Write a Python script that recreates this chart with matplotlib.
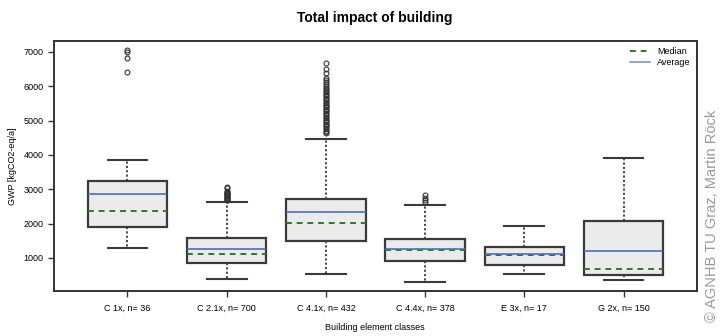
import matplotlib
matplotlib.use("Agg")
import matplotlib.pyplot as plt
from matplotlib.lines import Line2D

categories = ["C 1x, n= 36", "C 2.1x, n= 700", "C 4.1x, n= 432",
              "C 4.4x, n= 378", "E 3x, n= 17", "G 2x, n= 150"]
q1 = [1912, 862, 1503, 912, 806, 495]
q3 = [3242, 1573, 2709, 1562, 1311, 2086]
medians = [2359, 1116, 2028, 1223, 1087, 689]
means = [2854, 1261, 2348, 1261, 1116, 1213]
whislo = [1281, 379, 524, 300, 524, 367]
whishi = [3863, 2630, 4475, 2543, 1941, 3921]
outliers = [
    [6417, 6815, 7000, 7058],
    [2680, 2700, 2720, 2740, 2760, 2780, 2800, 2820, 2840, 2860, 2880,
     2900, 2930, 2960, 3050, 3076],
    [4631, 4670, 4710, 4750, 4790, 4830, 4870, 4910, 4950, 4990, 5030,
     5070, 5110, 5150, 5190, 5230, 5270, 5310, 5350, 5390, 5430, 5470,
     5510, 5550, 5590, 5630, 5670, 5710, 5750, 5790, 5830, 5870, 5910,
     5950, 6000, 6060, 6120, 6180, 6252, 6378, 6494, 6688],
    [2620, 2680, 2760, 2840],
    [],
    [],
]
yticks = [1000, 2000, 3000, 4000, 5000, 6000, 7000]

plt.rcParams['font.family'] = ['Liberation Sans', 'DejaVu Sans']

fig = plt.figure(figsize=(7.21, 3.36), dpi=100)
ax = fig.add_axes([54/721, 1-291/336, (697-54)/721, (291-41)/336])

stats = []
for i in range(len(categories)):
    stats.append(dict(q1=q1[i], q3=q3[i], med=medians[i], mean=means[i],
                      whislo=whislo[i], whishi=whishi[i], fliers=outliers[i],
                      label=categories[i]))

positions = list(range(1, len(categories) + 1))
ax.bxp(stats, positions=positions, widths=0.8, patch_artist=True,
       showmeans=True, meanline=True, showfliers=True,
       boxprops=dict(facecolor='#ebebeb', edgecolor='#3a3a3a', linewidth=1.6),
       whiskerprops=dict(color='#3a3a3a', linestyle=(0, (1.2, 1.2)), linewidth=1.3),
       capprops=dict(color='#3a3a3a', linewidth=1.5),
       capwidths=0.4,
       medianprops=dict(color='#2a7a2a', linestyle=(0, (3, 2.5)), linewidth=1.4),
       meanprops=dict(color='#4a6cc8', linestyle='-', linewidth=1.2),
       flierprops=dict(marker='o', markerfacecolor='none', markeredgecolor='#333333',
                       markersize=3.5, markeredgewidth=0.8))

ax.set_xlim(0.26, 6.74)
ax.set_ylim(38, 7320)
ax.set_yticks(yticks)
ax.set_yticklabels([str(v) for v in yticks], fontsize=6.5)
ax.set_xticks(positions)
ax.set_xticklabels(categories, fontsize=6.5)
ax.tick_params(axis='both', length=4, width=1.0, color='#333333', direction='out')
ax.tick_params(axis='x', pad=5)
for s in ax.spines.values():
    s.set_linewidth(1.4)
    s.set_color('#333333')

ax.set_ylabel("GWP [kgCO2-eq/a]", fontsize=6.5, labelpad=5)
fig.text(375/721, 1-327/336, "Building element classes", fontsize=6.5,
         ha='center', va='center')
fig.text(375/721, 1-18/336, "Total impact of building", fontsize=10,
         fontweight='bold', ha='center', va='center')

handles = [Line2D([], [], color='#2a7a2a', linestyle=(0, (3, 2.5)), linewidth=1.4),
           Line2D([], [], color='#7f95d8', linestyle='-', linewidth=1.2)]
ax.legend(handles, ["Median", "Average"], loc='upper right', frameon=False,
          fontsize=6.5, handlelength=2.2, labelspacing=0.2,
          bbox_to_anchor=(1.0, 1.0), borderaxespad=0.3)

fig.text(712/721, 1-216/336, "\u00a9 AGNHB TU Graz, Martin R\u00f6ck", fontsize=10.5,
         color='#999999', rotation=90, ha='center', va='center')

fig.savefig("out.png", dpi=100)
